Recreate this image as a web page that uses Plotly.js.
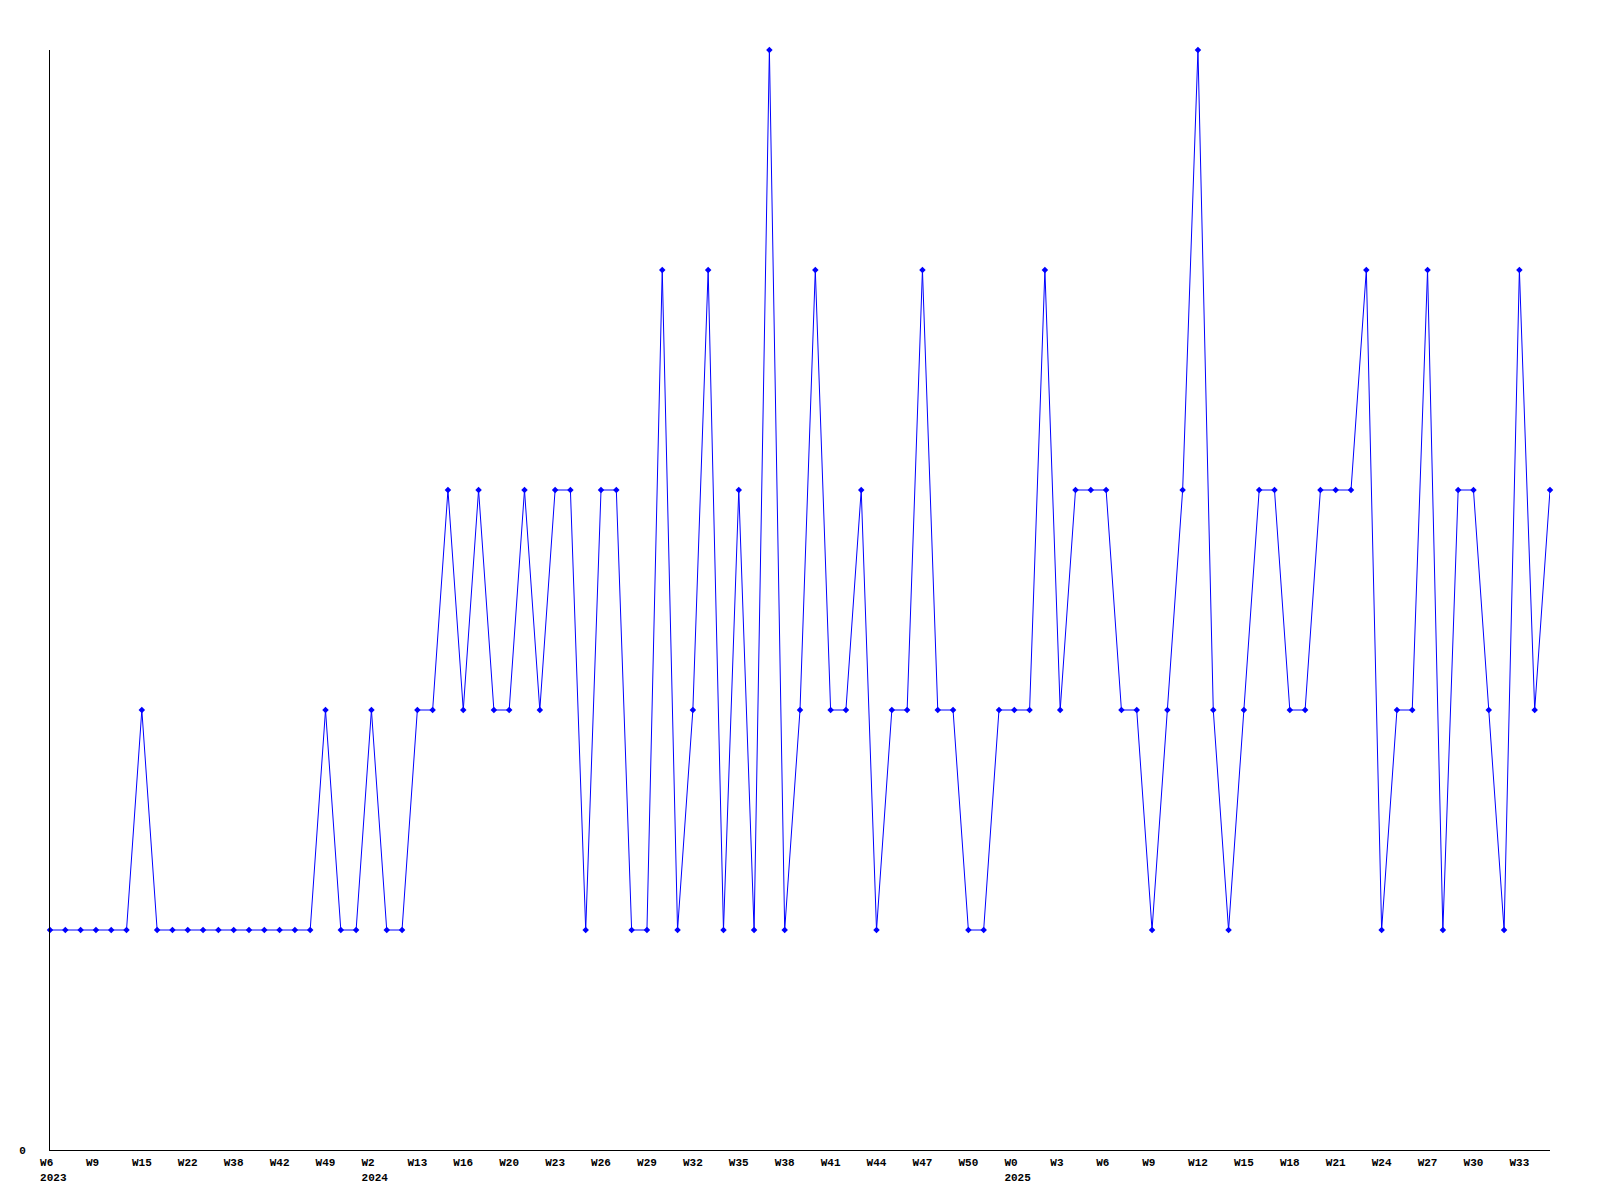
<!DOCTYPE html>
<html>
<head>
<meta charset="utf-8">
<script src="https://cdn.plot.ly/plotly-3.0.1.min.js"></script>
<style>
  html, body { margin: 0; padding: 0; background: #fff; }
  #chart { width: 1600px; height: 1200px; }
</style>
</head>
<body>
<div id="chart"></div>
<script>
// Weekly values (one per point, in order)
const values = [
  1,1,1,1,1,1,2,1,1,1,
  1,1,1,1,1,1,1,1,2,1,
  1,2,1,1,2,2,3,2,3,2,
  2,3,2,3,3,1,3,3,1,1,
  4,1,2,4,1,3,1,5,1,2,
  4,2,2,3,1,2,2,4,2,2,
  1,1,2,2,2,4,2,3,3,3,
  2,2,1,2,3,5,2,1,2,3,
  3,2,2,3,3,3,4,1,2,2,
  4,1,3,3,2,1,4,2,3
];
// Positions of labelled ticks (point index)
const tickPositions = [0,3,6,9,12,15,18,21,24,27,30,33,36,39,42,45,48,51,54,57,60,63,66,69,72,75,78,81,84,87,90,93,96];
const tickLabels = ["W6","W9","W15","W22","W38","W42","W49","W2","W13","W16","W20","W23","W26","W29","W32","W35","W38","W41","W44","W47","W50","W0","W3","W6","W9","W12","W15","W18","W21","W24","W27","W30","W33"];
const tickYears = ["2023","","","","","","","2024","","","","","","","","","","","","","","2025","","","","","","","","","","",""];

const xs = values.map((_, i) => i);
const pad = s => { let t = s; while (t.length < 3) t += "\u00a0"; return t; };
const tickText = tickLabels.map((w, i) => tickYears[i] ? pad(w) + "<br>\u00a0" + tickYears[i] : pad(w));

const fontSpec = { family: "Liberation Mono, DejaVu Sans Mono, monospace", size: 11, color: "#000", weight: "bold" };

const trace = {
  x: xs,
  y: values,
  type: "scatter",
  mode: "lines+markers",
  line: { color: "#0000ff", width: 1 },
  marker: { color: "#0000ff", symbol: "diamond", size: 5 },
  cliponaxis: false,
  hoverinfo: "none"
};

const layout = {
  width: 1600,
  height: 1200,
  margin: { l: 50, r: 50, t: 50, b: 50, pad: 0 },
  paper_bgcolor: "#ffffff",
  plot_bgcolor: "#ffffff",
  showlegend: false,
  font: fontSpec,
  xaxis: {
    range: [0, values.length - 1],
    tickmode: "array",
    tickvals: tickPositions,
    ticktext: tickText,
    ticks: "",
    showgrid: false,
    zeroline: false,
    showline: true,
    linecolor: "#000",
    linewidth: 1,
    tickangle: 0,
    tickfont: fontSpec,
    ticklabelstandoff: 2
  },
  yaxis: {
    range: [0, 5],
    tickmode: "array",
    tickvals: [0],
    ticktext: ["0"],
    ticks: "",
    showgrid: false,
    zeroline: false,
    showline: true,
    linecolor: "#000",
    linewidth: 1,
    tickfont: fontSpec,
    ticklabelstandoff: 21
  }
};

Plotly.newPlot("chart", [trace], layout, { staticPlot: true, displayModeBar: false });
</script>
</body>
</html>
